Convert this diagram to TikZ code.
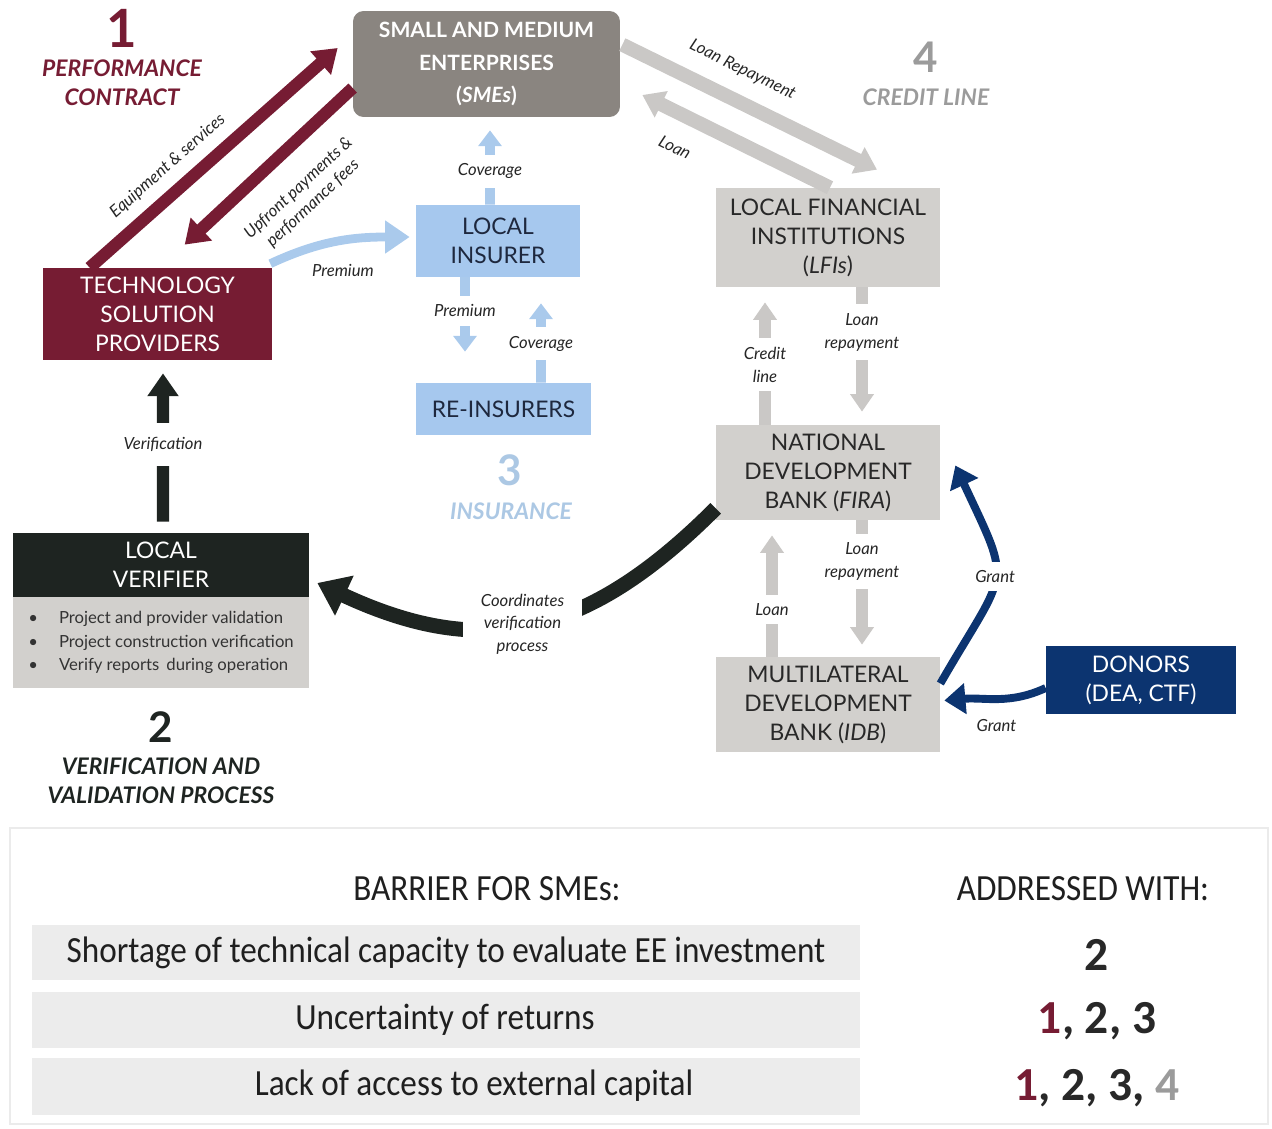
\documentclass[tikz,border=0pt]{standalone}
\usepackage{fontspec}
\setmainfont{Lato}
\newfontfamily\tablefont[FakeStretch=0.9]{Carlito}
\newfontfamily\numfont{Carlito}
\usetikzlibrary{arrows.meta,positioning,calc}

\definecolor{maroon}{RGB}{118,28,51}
\definecolor{smegray}{RGB}{138,133,128}
\definecolor{boxgray}{RGB}{210,208,205}
\definecolor{arrgray}{RGB}{202,200,198}
\definecolor{insblue}{RGB}{166,200,238}
\definecolor{arrblue}{RGB}{170,202,236}
\definecolor{inktext}{RGB}{30,40,62}
\definecolor{boxtext}{RGB}{40,40,40}
\definecolor{donornavy}{RGB}{12,52,112}
\definecolor{verdark}{RGB}{30,36,33}
\definecolor{credgray}{RGB}{155,155,155}
\definecolor{lightlbl}{RGB}{172,200,228}
\definecolor{rowgray}{RGB}{236,236,236}

\begin{document}
\begin{tikzpicture}[x=0.02cm,y=-0.02cm,
    block/.style={rectangle,inner sep=0pt,align=center,text=boxtext,
      font=\fontsize{13}{16.5}\selectfont},
    lbl/.style={fill=white,inner xsep=2pt,inner ysep=5pt,align=center,
      text=black!85,font=\fontsize{9.5}{13}\selectfont\itshape},
    side/.style={inner sep=1pt,align=center,text=black!85,
      font=\fontsize{9.5}{12}\selectfont\itshape},
    big/.style={align=center,font=\fontsize{13}{16.5}\selectfont\bfseries\itshape},
    digit/.style={font=\fontsize{#1}{#1}\selectfont\bfseries},
    cell/.style={text=black!88,font=\tablefont\fontsize{21}{21}\selectfont},
    score/.style={text=boxtext,font=\numfont\bfseries\fontsize{27}{27}\selectfont},
    redarrow/.style={draw=maroon,line width=7pt,-{Triangle[length=13pt,width=17pt]}},
    bluearrow/.style={draw=arrblue,line width=5.5pt,-{Triangle[length=9pt,width=13pt]}},
    greyarrow/.style={draw=arrgray,line width=7pt,-{Triangle[length=10pt,width=13pt]}},
    diagarrow/.style={draw=arrgray,line width=8pt,-{Triangle[length=12pt,width=16pt]}},
    blackarrow/.style={draw=verdark,line width=7pt,-{Triangle[length=13pt,width=17pt]}},
    navyarrow/.style={draw=donornavy,line width=4.5pt,-{Triangle[length=12pt,width=17pt]}}]

  \useasboundingbox (0,0) rectangle (1272,1129);

  \node[block,fill=smegray,rounded corners=6pt,minimum width=5.34cm,minimum height=2.12cm,
    text=white,font=\fontsize{12}{18.7}\selectfont\bfseries] (sme) at (486.5,64)
    {SMALL AND MEDIUM\\ENTERPRISES\\(\textit{SMEs})};
  \node[block,fill=maroon,text=white,minimum width=4.58cm,minimum height=1.84cm] (tsp)
    at (157.5,314) {TECHNOLOGY\\SOLUTION\\PROVIDERS};
  \node[block,fill=insblue,text=inktext,minimum width=3.28cm,minimum height=1.44cm] (ins)
    at (498,241) {LOCAL\\INSURER};
  \node[block,fill=insblue,text=inktext,minimum width=3.5cm,minimum height=1.04cm] (reins)
    at (503.5,409) {RE-INSURERS};
  \node[block,fill=boxgray,minimum width=4.48cm,minimum height=1.98cm] (lfi)
    at (828,237.5) {LOCAL FINANCIAL\\INSTITUTIONS\\(\textit{LFIs})};
  \node[block,fill=boxgray,minimum width=4.48cm,minimum height=1.9cm] (ndb)
    at (828,472.5) {NATIONAL\\DEVELOPMENT\\BANK (\textit{FIRA})};
  \node[block,fill=boxgray,minimum width=4.48cm,minimum height=1.9cm] (mdb)
    at (828,704.5) {MULTILATERAL\\DEVELOPMENT\\BANK (\textit{IDB})};
  \node[block,fill=donornavy,text=white,minimum width=3.8cm,minimum height=1.36cm] (donors)
    at (1141,680) {DONORS\\(DEA, CTF)};
  \node[block,fill=verdark,text=white,minimum width=5.92cm,minimum height=1.28cm] (ver)
    at (161,565) {LOCAL\\VERIFIER};
  \node[block,fill=boxgray,minimum width=5.92cm,minimum height=1.82cm,
    text=black!80,font=\fontsize{9.5}{13.3}\selectfont] (tasks) at (161,642.5)
    {\begin{tabular}{@{}l@{\hspace{12pt}}l@{}}
      \textbullet & Project and provider validation\\
      \textbullet & Project construction verification\\
      \textbullet & Verify reports\, during operation
    \end{tabular}};

  \node[digit=30,text=maroon] (n1) at (122,28) {1};
  \node[big,text=maroon] (t1) at (122,83) {PERFORMANCE\\CONTRACT};
  \node[digit=24,text=verdark] (n2) at (161,727) {2};
  \node[big,text=verdark] (t2) at (161,781) {VERIFICATION AND\\VALIDATION PROCESS};
  \node[digit=24,text=lightlbl] (n3) at (510,470) {3};
  \node[big,text=lightlbl] (t3) at (511,511) {INSURANCE};
  \node[digit=24,text=credgray] (n4) at (926,57) {4};
  \node[big,text=credgray] (t4) at (926,97) {CREDIT LINE};

  \path ($(tsp.north west)+(47,0)$) edge[redarrow]
          node[side,sloped,above=5pt,pos=0.38] (lequip) {Equipment \& services}
          ($(sme.west)+(-15,-16)$)
        ($(sme.west)+(0,24)$) edge[redarrow]
          node[side,sloped,below=12pt,pos=0.47] (lfees) {Upfront payments \&\\performance fees}
          ($(tsp.north west)+(142,-23)$);

  \path ($(tsp.north east)+(-2,-4)$) edge[bluearrow,line width=5pt,
          -{Triangle[length=14pt,width=18pt]},out=25,in=180] ($(ins.west)+(-6,-4)$)
        ($(ins.north)+(-8,0)$) edge[bluearrow] node[lbl,pos=0.45] (lcov) {Coverage}
          ($(sme.south)+(3.5,13)$)
        ($(ins.south)+(-33,0)$) edge[bluearrow] node[lbl,pos=0.45] (lprem) {Premium}
          ($(reins.north)+(-38.5,-31)$)
        ($(reins.north)+(37.5,0)$) edge[bluearrow] node[lbl,pos=0.49] (lrecov) {Coverage}
          ($(ins.south)+(43,26)$);
  \node[side] (lpremium) at (343,270) {Premium};

  \path ($(sme.north east)+(2,34)$) edge[diagarrow]
          node[side,sloped,above=8pt,pos=0.42] (lrepay) {Loan Repayment}
          ($(lfi.north)+(49,-18)$)
        ($(lfi.north)+(2,0)$) edge[diagarrow]
          node[side,sloped,below=10pt,pos=0.75] (lloan) {Loan}
          ($(sme.east)+(22,31)$);

  \path ($(ndb.north)+(-63,0)$) edge[greyarrow] node[lbl,pos=0.49] (lcredit) {Credit\\line}
          ($(lfi.south)+(-63,15)$)
        ($(lfi.south)+(34,0)$) edge[greyarrow] node[lbl,pos=0.36] (lrepay2) {Loan\\repayment}
          ($(ndb.north)+(34,-13)$)
        ($(mdb.north)+(-56,0)$) edge[greyarrow] node[lbl,pos=0.39] (lloan2) {Loan}
          ($(ndb.south)+(-56,15)$)
        ($(ndb.south)+(34,0)$) edge[greyarrow] node[lbl,pos=0.33] (lrepay3) {Loan\\repayment}
          ($(mdb.north)+(34,-12)$);

  \path ($(ver.north)+(2,-11)$) edge[blackarrow] node[lbl,pos=0.52,inner ysep=8pt] (lverif) {Verification}
          ($(tsp.south)+(5.5,13)$)
        ($(ndb.south west)+(0,-12)$) edge[blackarrow,line width=8.5pt,
          -{Triangle[length=17pt,width=24pt]},out=-135,in=-25,looseness=1.15]
          node[lbl,pos=0.52,inner xsep=10pt] (lcoord) {Coordinates\\verification\\process}
          ($(ver.east)+(8,18)$);

  \path ($(mdb.east)+(0,-21)$) edge[navyarrow,out=60,in=-65,looseness=1.6]
          node[lbl,pos=0.5] (lgrant) {Grant} ($(ndb.east)+(15,-7)$)
        ($(donors.west)+(0,8)$) edge[navyarrow,out=205,in=5]
          node[side,below=8pt,pos=0.5] (lgrant2) {Grant} ($(mdb.east)+(4,-4)$);

  \draw[black!8,line width=1pt] (10,828) rectangle (1268,1124);
  \fill[rowgray] (32,925) rectangle (860,980);
  \fill[rowgray] (32,992) rectangle (860,1048);
  \fill[rowgray] (32,1058) rectangle (860,1115);
  \node[cell] (hbar) at (487,889) {BARRIER FOR SMEs:};
  \node[cell] (hadd) at (1083,889) {ADDRESSED WITH:};
  \node[cell] (r1) at (446,953) {Shortage of technical capacity to evaluate EE investment};
  \node[cell] (r2) at (445,1020) {Uncertainty of returns};
  \node[cell] (r3) at (474,1086) {Lack of access to external capital};
  \node[score] (a1) at (1097,955) {2};
  \node[score] (a2) at (1097,1021) {\textcolor{maroon}{1}, 2, 3};
  \node[score] (a3) at (1097,1088) {\textcolor{maroon}{1}, 2, 3, \textcolor{credgray}{4}};

\end{tikzpicture}
\end{document}
